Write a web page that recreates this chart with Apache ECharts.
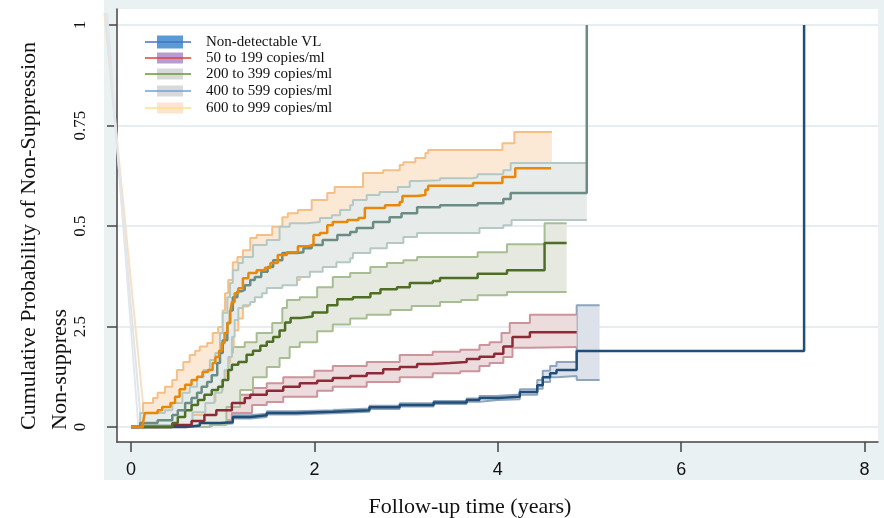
<!DOCTYPE html>
<html>
<head>
<meta charset="utf-8">
<script src="https://cdn.jsdelivr.net/npm/echarts@6/dist/echarts.min.js"></script>
<style>
  html, body { margin: 0; padding: 0; background: #fff; }
  #chart { width: 884px; height: 518px; }
</style>
</head>
<body>
<div id="chart"></div>
<script>
// tick values / labels (label at .25 reads "2.5" in the source figure)
var xTicks = [0, 2, 4, 6, 8];
var yTicks = [0, 0.25, 0.5, 0.75, 1];
var yTickLabels = ['0', '2.5', '0.5', '0.75', '1'];

// [time in years, cumulative probability] - Kaplan-Meier style step data
var ndEst = [[0,0],[0.48,0],[0.6,0.004],[0.75,0.01],[0.97,0.012],[1.11,0.025],[1.3,0.029],[1.48,0.035],[1.8,0.038],[2.2,0.042],[2.6,0.049],[2.93,0.055],[3.3,0.061],[3.66,0.067],[3.8,0.072],[4.0,0.075],[4.24,0.087],[4.43,0.104],[4.49,0.124],[4.57,0.134],[4.64,0.142],[4.86,0.189],[7.34,1.0]];
var ndHi = [[0,0],[0.6,0.006],[0.75,0.013],[0.97,0.016],[1.11,0.029],[1.3,0.033],[1.48,0.039],[1.8,0.042],[2.2,0.046],[2.6,0.053],[2.93,0.059],[3.3,0.065],[3.66,0.071],[3.8,0.077],[4.0,0.081],[4.24,0.094],[4.43,0.117],[4.49,0.14],[4.57,0.152],[4.64,0.162],[4.86,0.303],[5.11,0.303]];
var ndLo = [[0,0],[0.6,0.002],[0.75,0.007],[0.97,0.009],[1.11,0.021],[1.3,0.025],[1.48,0.031],[1.8,0.034],[2.2,0.038],[2.6,0.045],[2.93,0.051],[3.3,0.057],[3.66,0.063],[3.8,0.067],[4.0,0.069],[4.24,0.08],[4.43,0.095],[4.49,0.112],[4.57,0.124],[4.64,0.127],[4.86,0.117],[5.11,0.117]];

var c50Est = [[0,0],[0.45,0.005],[0.66,0.015],[0.8,0.03],[0.93,0.042],[1.1,0.06],[1.24,0.072],[1.3,0.08],[1.48,0.09],[1.66,0.1],[1.84,0.109],[2.03,0.115],[2.2,0.122],[2.39,0.127],[2.57,0.134],[2.75,0.144],[2.93,0.149],[3.12,0.157],[3.29,0.159],[3.48,0.162],[3.66,0.169],[3.8,0.175],[3.96,0.182],[4.06,0.2],[4.16,0.224],[4.35,0.236],[4.86,0.236]];
var c50Hi = [[0,0],[0.55,0.005],[0.81,0.037],[1.03,0.062],[1.17,0.08],[1.33,0.097],[1.48,0.109],[1.66,0.124],[2.0,0.14],[2.2,0.152],[2.57,0.162],[2.93,0.179],[3.29,0.187],[3.59,0.192],[3.8,0.204],[3.91,0.211],[4.04,0.234],[4.13,0.259],[4.35,0.279],[4.86,0.279]];
var c50Lo = [[0,0],[0.66,0.002],[0.88,0.017],[1.1,0.035],[1.32,0.055],[1.48,0.062],[1.66,0.075],[2.03,0.09],[2.2,0.1],[2.57,0.112],[2.93,0.124],[3.29,0.134],[3.59,0.139],[3.8,0.152],[3.91,0.159],[4.06,0.174],[4.16,0.197],[4.35,0.199],[4.86,0.199]];

var c200Est = [[0,0],[0.45,0.01],[0.51,0.025],[0.59,0.042],[0.66,0.055],[0.73,0.067],[0.8,0.08],[0.88,0.092],[0.95,0.1],[1.0,0.117],[1.06,0.142],[1.1,0.155],[1.17,0.162],[1.26,0.18],[1.33,0.19],[1.41,0.202],[1.48,0.212],[1.55,0.224],[1.62,0.24],[1.68,0.26],[1.74,0.271],[1.85,0.275],[1.98,0.285],[2.14,0.303],[2.25,0.318],[2.42,0.323],[2.61,0.333],[2.72,0.343],[2.9,0.348],[3.04,0.358],[3.29,0.363],[3.37,0.371],[3.78,0.381],[4.1,0.39],[4.51,0.458],[4.75,0.458]];
var c200Hi = [[0,0],[0.45,0.01],[0.59,0.05],[0.73,0.08],[0.88,0.109],[0.99,0.142],[1.06,0.184],[1.11,0.199],[1.24,0.211],[1.37,0.234],[1.54,0.259],[1.65,0.296],[1.7,0.316],[1.84,0.323],[2.03,0.348],[2.2,0.373],[2.39,0.383],[2.61,0.398],[2.79,0.408],[2.97,0.415],[3.12,0.423],[3.78,0.435],[4.1,0.455],[4.51,0.507],[4.75,0.507]];
var c200Lo = [[0,0],[0.86,0.005],[1.04,0.05],[1.19,0.092],[1.33,0.124],[1.48,0.149],[1.62,0.172],[1.73,0.199],[1.84,0.211],[2.03,0.238],[2.2,0.255],[2.39,0.27],[2.57,0.279],[2.83,0.291],[3.06,0.301],[3.37,0.311],[3.6,0.316],[3.78,0.328],[4.1,0.336],[4.75,0.336]];

var c400Est = [[0,0],[0.1,0.01],[0.29,0.017],[0.45,0.03],[0.51,0.042],[0.59,0.06],[0.66,0.072],[0.72,0.085],[0.77,0.1],[0.83,0.112],[0.88,0.129],[0.94,0.159],[0.97,0.184],[1.0,0.216],[1.05,0.259],[1.08,0.29],[1.11,0.323],[1.16,0.338],[1.21,0.341],[1.24,0.353],[1.3,0.366],[1.35,0.373],[1.42,0.386],[1.49,0.398],[1.55,0.415],[1.65,0.433],[1.81,0.435],[1.88,0.445],[1.97,0.453],[2.09,0.465],[2.25,0.478],[2.39,0.485],[2.46,0.495],[2.64,0.51],[2.82,0.522],[2.95,0.532],[3.12,0.547],[3.37,0.552],[3.78,0.557],[4.06,0.567],[4.14,0.582],[4.97,1.0]];
var c400Hi = [[0,0],[0.1,0.035],[0.37,0.042],[0.45,0.06],[0.56,0.085],[0.64,0.1],[0.72,0.124],[0.79,0.142],[0.86,0.167],[0.92,0.184],[0.97,0.234],[1.0,0.284],[1.05,0.323],[1.08,0.358],[1.11,0.39],[1.17,0.408],[1.22,0.423],[1.33,0.453],[1.48,0.465],[1.62,0.498],[1.73,0.507],[1.92,0.51],[2.06,0.52],[2.19,0.527],[2.28,0.54],[2.39,0.552],[2.42,0.565],[2.57,0.577],[2.71,0.585],[2.91,0.597],[3.04,0.612],[3.15,0.614],[3.37,0.619],[3.73,0.622],[3.78,0.629],[4.06,0.639],[4.14,0.657],[4.97,0.657]];
var c400Lo = [[0,0],[0.1,0.005],[0.67,0.037],[0.81,0.06],[0.91,0.085],[0.99,0.117],[1.02,0.142],[1.06,0.174],[1.1,0.224],[1.13,0.266],[1.17,0.296],[1.22,0.303],[1.3,0.311],[1.35,0.323],[1.43,0.333],[1.48,0.346],[1.65,0.353],[1.81,0.373],[1.95,0.386],[2.09,0.398],[2.24,0.41],[2.39,0.42],[2.42,0.433],[2.61,0.445],[2.79,0.458],[2.97,0.473],[3.12,0.483],[3.8,0.495],[4.06,0.502],[4.15,0.515],[4.97,0.515]];

var c600Est = [[0,0],[0.13,0.01],[0.15,0.035],[0.29,0.042],[0.34,0.05],[0.43,0.06],[0.48,0.075],[0.53,0.094],[0.59,0.105],[0.66,0.117],[0.72,0.125],[0.78,0.137],[0.84,0.142],[0.89,0.159],[0.92,0.174],[0.96,0.19],[0.99,0.209],[1.02,0.234],[1.05,0.259],[1.08,0.284],[1.1,0.311],[1.13,0.333],[1.17,0.345],[1.22,0.37],[1.28,0.383],[1.37,0.39],[1.46,0.396],[1.52,0.408],[1.6,0.428],[1.7,0.435],[1.82,0.45],[1.93,0.453],[1.99,0.478],[2.06,0.483],[2.14,0.502],[2.2,0.51],[2.36,0.515],[2.48,0.52],[2.55,0.545],[2.77,0.552],[2.93,0.56],[2.96,0.575],[3.12,0.577],[3.21,0.59],[3.24,0.6],[3.73,0.607],[4.05,0.622],[4.19,0.644],[4.58,0.644]];
var c600Hi = [[0,0],[0.13,0.06],[0.24,0.072],[0.29,0.085],[0.37,0.1],[0.45,0.117],[0.5,0.142],[0.57,0.162],[0.64,0.179],[0.7,0.19],[0.75,0.2],[0.83,0.209],[0.89,0.234],[0.95,0.249],[1.0,0.29],[1.025,0.333],[1.06,0.366],[1.11,0.41],[1.16,0.423],[1.22,0.44],[1.3,0.47],[1.37,0.478],[1.54,0.498],[1.65,0.522],[1.71,0.532],[1.82,0.54],[1.97,0.565],[2.14,0.582],[2.22,0.597],[2.53,0.632],[2.75,0.639],[2.93,0.652],[2.97,0.659],[3.1,0.669],[3.21,0.682],[3.24,0.689],[4.05,0.706],[4.18,0.734],[4.59,0.734]];
var c600Lo = [[0,0],[0.13,0.005],[0.6,0.03],[0.8,0.065],[0.92,0.09],[1.0,0.125],[1.04,0.16],[1.08,0.2],[1.12,0.24],[1.17,0.27],[1.22,0.3],[1.28,0.33],[1.4,0.35],[1.55,0.366],[1.84,0.4],[2.1,0.422],[2.4,0.462],[2.7,0.478],[3.0,0.495],[3.4,0.505],[3.8,0.515],[4.1,0.525],[4.2,0.535],[4.59,0.535]];

// faint lead-in segments of the bands near time 0
var leadIn600 = [[-0.29,1.03],[0.13,0.06]];
var leadIn400a = [[-0.28,1.03],[0.1,0.035]];
var leadIn400b = [[-0.26,1.03],[0.08,0.0]];

var legendNames = ['Non-detectable VL', '50 to 199 copies/ml', '200 to 399 copies/ml', '400 to 599 copies/ml', '600 to 999 copies/ml'];

var serif = '"Liberation Serif", "Times New Roman", serif';
var sans = '"Liberation Sans", Arial, sans-serif';

function stepPts(pairs) {
  var out = [];
  for (var i = 0; i < pairs.length; i++) {
    if (i > 0) out.push([pairs[i][0], pairs[i - 1][1]]);
    out.push(pairs[i]);
  }
  return out;
}

function band(hi, lo, fill, z) {
  var pts = stepPts(hi).concat(stepPts(lo).reverse());
  return {
    type: 'custom', silent: true, z: z, data: [[0, 0]],
    renderItem: function (params, api) {
      return {
        type: 'polygon',
        shape: { points: pts.map(function (p) { return api.coord(p); }) },
        style: { fill: fill }
      };
    }
  };
}

// straight segment that may run past the left edge (custom series is not clipped)
function leadIn(pairs, color) {
  return {
    type: 'custom', silent: true, z: 5, data: [[0, 0]],
    renderItem: function (params, api) {
      var a = api.coord(pairs[0]), b = api.coord(pairs[1]);
      return {
        type: 'line',
        shape: { x1: a[0], y1: a[1], x2: b[0], y2: b[1] },
        style: { stroke: color, lineWidth: 2 }
      };
    }
  };
}

function stepLine(data, color, width, z) {
  return {
    type: 'line', data: data, step: 'end', symbol: 'none', silent: true, z: z,
    lineStyle: { color: color, width: width }
  };
}

var groups = [
  { hi: ndHi, lo: ndLo, fill: '#dde2ea', edge: '#8fa5be' },
  { hi: c50Hi, lo: c50Lo, fill: '#eddcdd', edge: '#cc949b' },
  { hi: c200Hi, lo: c200Lo, fill: '#e5e9df', edge: '#a9bd94' },
  { hi: c600Hi, lo: c600Lo, fill: '#fbe9d6', edge: '#f4c088' },
  { hi: c400Hi, lo: c400Lo, fill: '#e7ecea', edge: '#b5c8c3' }
];

var series = [];
series.push(leadIn(leadIn600, '#f8e0c6'));
series.push(leadIn(leadIn400a, '#dfe6e8'));
series.push(leadIn(leadIn400b, '#e3e7ec'));
groups.forEach(function (g, i) {
  series.push(band(g.hi, g.lo, g.fill, 10 + 2 * i));
  series.push(stepLine(g.hi, g.edge, 2, 11 + 2 * i));
  series.push(stepLine(g.lo, g.edge, 2, 11 + 2 * i));
});
series.push(stepLine(ndEst, '#1f4e79', 2.5, 30));
series.push(stepLine(c50Est, '#8e2a35', 2.5, 30));
series.push(stepLine(c200Est, '#4e6e25', 2.5, 30));
series.push(stepLine(c400Est, '#6b8c84', 2.5, 30));
series.push(stepLine(c600Est, '#e8870a', 2.5, 30));

// hand-drawn legend (symbols differ from the plotted colours in the source)
var legendLine = ['#4472c4', '#e0403a', '#5f9a3a', '#6fa0d8', '#ffe08a'];
var legendBox = ['#5b9bd5', '#b89bd3', '#d9d9d9', '#d9d9d9', '#fde4d0'];
var legendY = [42, 58, 74, 91, 108];
var graphics = [
  { type: 'rect', z: -10, shape: { x: 104, y: 0, width: 780, height: 480 }, style: { fill: '#eaf1f3' } }
];
legendNames.forEach(function (name, i) {
  var h = i === 0 ? 13 : 11;
  graphics.push({ type: 'rect', z: 100, shape: { x: 157, y: legendY[i] - h / 2, width: 26, height: h }, style: { fill: legendBox[i] } });
  graphics.push({ type: 'line', z: 101, shape: { x1: 145, y1: legendY[i], x2: 191, y2: legendY[i] }, style: { stroke: legendLine[i], lineWidth: 1.5 } });
  graphics.push({ type: 'text', z: 101, x: 206, y: legendY[i], style: { text: name, fill: '#111', font: '15px ' + serif, textVerticalAlign: 'middle' } });
});
graphics.push({ type: 'text', z: 101, x: 470, y: 507, style: { text: 'Follow-up time (years)', fill: '#111', font: '22px ' + serif, textAlign: 'center', textVerticalAlign: 'middle' } });
graphics.push({ type: 'text', z: 101, x: 29, y: 430, rotation: Math.PI / 2, style: { text: 'Cumulative Probability of Non-Suppression', fill: '#111', font: '22px ' + serif, textAlign: 'left', textVerticalAlign: 'middle' } });
graphics.push({ type: 'text', z: 101, x: 60, y: 430, rotation: Math.PI / 2, style: { text: 'Non-suppress', fill: '#111', font: '22px ' + serif, textAlign: 'left', textVerticalAlign: 'middle' } });

var myChart = echarts.init(document.getElementById('chart'));
var option = {
  animation: false,
  backgroundColor: '#fff',
  grid: { left: 117, right: 6, top: 9, bottom: 76, show: true, backgroundColor: '#fff', borderWidth: 0 },
  xAxis: {
    type: 'value', min: -0.153, max: 8.146,
    axisLine: { onZero: false, lineStyle: { color: '#444', width: 1.5 } },
    axisTick: { customValues: xTicks, length: 10, lineStyle: { color: '#444', width: 1.5 } },
    axisLabel: { customValues: xTicks, margin: 19, color: '#111', fontSize: 18, fontFamily: sans },
    splitLine: { show: false }
  },
  yAxis: {
    type: 'value', min: -0.0373, max: 1.04,
    axisLine: { show: true, onZero: false, lineStyle: { color: '#444', width: 1.5 } },
    axisTick: { show: true, customValues: yTicks, length: 10, lineStyle: { color: '#444', width: 1.5 } },
    axisLabel: {
      customValues: yTicks, rotate: 90, margin: 28, color: '#111', fontSize: 17, fontFamily: serif,
      formatter: function (v) { return yTickLabels[yTicks.indexOf(v)]; }
    },
    splitLine: { show: true, lineStyle: { color: '#e6eef2', width: 2 } }
  },
  graphic: { elements: graphics },
  series: series
};
myChart.setOption(option);
</script>
</body>
</html>
